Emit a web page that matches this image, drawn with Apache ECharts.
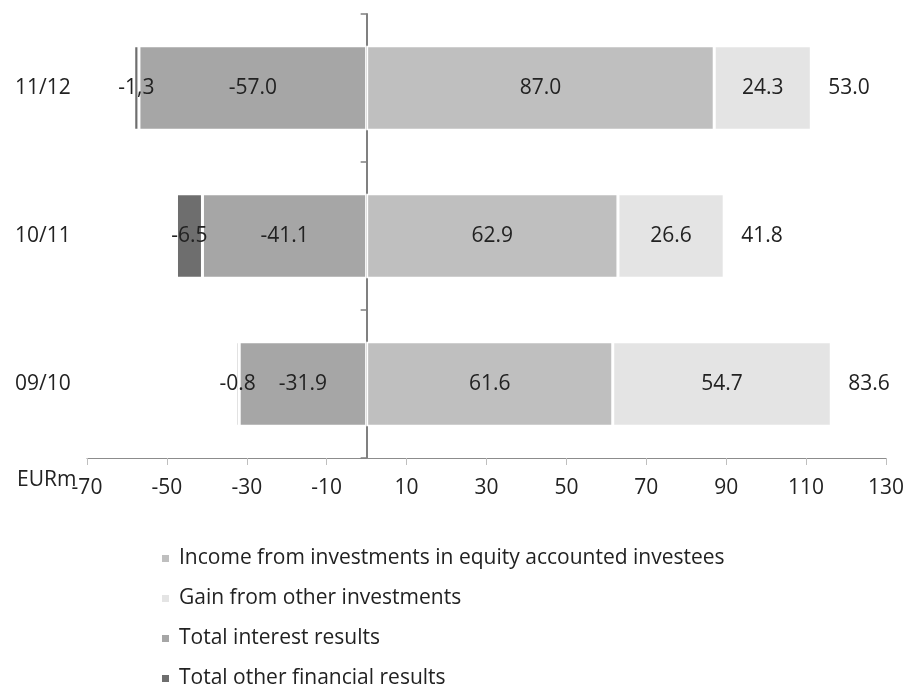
<!DOCTYPE html>
<html>
<head>
<meta charset="utf-8">
<script src="https://cdn.jsdelivr.net/npm/echarts@6/dist/echarts.min.js"></script>
<style>html,body{margin:0;padding:0;background:#fff}#c{width:908px;height:686px}</style>
</head>
<body>
<div id="c"></div>
<script>
var categories = ['09/10', '10/11', '11/12'];
var incomeEquity = [61.6, 62.9, 87.0];
var gainOther = [54.7, 26.6, 24.3];
var interestResults = [-31.9, -41.1, -57.0];
var otherFinancial = [-0.8, -6.5, -1.3];
var otherFinancialLabels = ['-0.8', '-6.5', '-1,3'];
var totals = ['83.6', '41.8', '53.0'];
var xTicks = { min: -70, max: 130, interval: 20 };

var FONT = 'Open Sans';
var TXT = '#222222';
var chart = echarts.init(document.getElementById('c'));

var inside = function (fmt) {
  return { show: true, position: 'inside', color: TXT, fontFamily: FONT, fontSize: 21, formatter: fmt };
};
var posEnd = incomeEquity.map(function (v, i) { return [v + gainOther[i], i]; });

chart.setOption({
  animation: false,
  textStyle: { fontFamily: FONT },
  grid: { left: 87, right: 22, top: 14, bottom: 228, containLabel: false },
  legend: {
    orient: 'vertical', left: 155, top: 543, height: 160, itemWidth: 9, itemHeight: 9, itemGap: 19,
    icon: 'rect',
    textStyle: { fontFamily: FONT, fontSize: 21, color: TXT, padding: [0, 0, 0, 4] },
    data: ['Income from investments in equity accounted investees', 'Gain from other investments', 'Total interest results', 'Total other financial results']
  },
  graphic: [{ type: 'text', left: 17, top: 470, z: 10, style: { text: 'EURm', fontFamily: FONT, fontSize: 21, fill: TXT } }],
  xAxis: {
    type: 'value', min: xTicks.min, max: xTicks.max, interval: xTicks.interval,
    axisLine: { show: true, onZero: false, lineStyle: { color: '#8c8c8c', width: 1 } },
    axisTick: { show: true, length: 7, lineStyle: { color: '#bfbfbf' } },
    axisLabel: { color: TXT, fontSize: 21, fontFamily: FONT, margin: 20 },
    splitLine: { show: false }
  },
  yAxis: [{
    type: 'category', data: categories,
    axisLine: { show: true, onZero: true, lineStyle: { color: '#808080', width: 2 } },
    axisTick: { show: true, length: 6, lineStyle: { color: '#808080', width: 1.5 } },
    axisLabel: { show: false }
  }, {
    type: 'category', data: categories, position: 'left',
    axisLine: { show: false }, axisTick: { show: false },
    axisLabel: { show: true, align: 'left', margin: 72, color: TXT, fontSize: 21, fontFamily: FONT }
  }],
  series: [
    { name: 'Income from investments in equity accounted investees', type: 'bar', stack: 't', barWidth: '57%', data: incomeEquity,
      itemStyle: { color: '#bfbfbf', borderColor: '#fff', borderWidth: 1.5 }, label: inside(function (p) { return p.value.toFixed(1); }) },
    { name: 'Gain from other investments', type: 'bar', stack: 't', data: gainOther,
      itemStyle: { color: '#e4e4e4', borderColor: '#fff', borderWidth: 1.5 }, label: inside(function (p) { return p.value.toFixed(1); }) },
    { name: 'Total interest results', type: 'bar', stack: 't', data: interestResults,
      itemStyle: { color: '#a6a6a6', borderColor: '#fff', borderWidth: 1.5 }, label: inside(function (p) { return p.value.toFixed(1); }) },
    { name: 'Total other financial results', type: 'bar', stack: 't', data: otherFinancial,
      itemStyle: { color: '#6e6e6e', borderColor: '#fff', borderWidth: 1.5 }, label: inside(function (p) { return otherFinancialLabels[p.dataIndex]; }) },
    { name: 'totals', type: 'scatter', data: posEnd, symbolSize: 0, itemStyle: { color: '#ffffff', opacity: 1 }, silent: true,
      label: { show: true, position: 'right', distance: 17, color: TXT, fontFamily: FONT, fontSize: 21,
        formatter: function (p) { return totals[p.dataIndex]; } } }
  ]
});
</script>
</body>
</html>
